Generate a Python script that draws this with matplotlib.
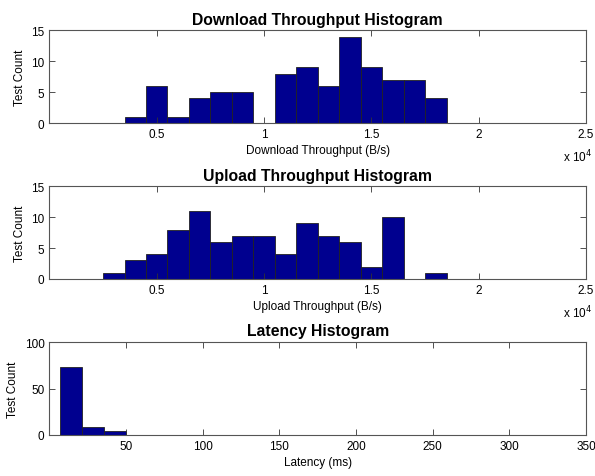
import numpy as np
import matplotlib
matplotlib.use("Agg")
import matplotlib.pyplot as plt
from matplotlib.ticker import FuncFormatter

plt.rcParams['font.family'] = ['Liberation Sans', 'DejaVu Sans']

# bin centres (B/s) and counts
dl_centers = [4000, 5000, 6000, 7000, 8000, 9000, 10000, 11000, 12000, 13000,
              14000, 15000, 16000, 17000, 18000]
dl_counts = [1, 6, 1, 4, 5, 5, 0, 8, 9, 6, 14, 9, 7, 7, 4]

ul_centers = [3000, 4000, 5000, 6000, 7000, 8000, 9000, 10000, 11000, 12000,
              13000, 14000, 15000, 16000, 17000, 18000]
ul_counts = [1, 3, 4, 8, 11, 6, 7, 7, 4, 9, 7, 6, 2, 10, 0, 1]

lat_centers = [14.2, 28.5, 42.8]
lat_counts = [73, 9, 4]
lat_width = 14.3

navy = (0, 0, 0.5625)

fig = plt.figure(figsize=(5.95, 4.77), dpi=100)
L, W = 0.083, 0.902
ax1 = fig.add_axes([L, 0.740, W, 0.194])
ax2 = fig.add_axes([L, 0.413, W, 0.194])
ax3 = fig.add_axes([L, 0.086, W, 0.194])


def style(ax, title, xlabel):
    ax.set_title(title, fontsize=11.3, fontweight='bold', pad=5)
    ax.set_xlabel(xlabel, fontsize=8.5, labelpad=3)
    ax.set_ylabel('Test Count', fontsize=8.5, labelpad=4)
    ax.tick_params(direction='in', top=True, right=True, labelsize=8.5,
                   length=4, width=0.6, colors='#333333', labelcolor='black')
    for s in ax.spines.values():
        s.set_linewidth(0.8)
        s.set_color('#555555')


ax1.bar(dl_centers, dl_counts, width=1000, color=navy, edgecolor='#222222', linewidth=0.6)
ax1.set_xlim(0, 25000)
ax1.set_ylim(0, 15)
ax1.set_xticks([5000, 10000, 15000, 20000, 25000])
ax1.set_yticks([0, 5, 10, 15])
style(ax1, 'Download Throughput Histogram', 'Download Throughput (B/s)')

ax2.bar(ul_centers, ul_counts, width=1000, color=navy, edgecolor='#222222', linewidth=0.6)
ax2.set_xlim(0, 25000)
ax2.set_ylim(0, 15)
ax2.set_xticks([5000, 10000, 15000, 20000, 25000])
ax2.set_yticks([0, 5, 10, 15])
style(ax2, 'Upload Throughput Histogram', 'Upload Throughput (B/s)')

for ax in (ax1, ax2):
    ax.xaxis.set_major_formatter(FuncFormatter(lambda v, p: '%g' % (v / 1e4)))
    ax.text(1.012, -0.27, 'x 10$^{4}$', transform=ax.transAxes, fontsize=8.5,
            ha='right', va='top')

ax3.bar(lat_centers, lat_counts, width=lat_width, color=navy, edgecolor='#222222', linewidth=0.6)
ax3.set_xlim(0, 350)
ax3.set_ylim(0, 100)
ax3.set_xticks([50, 100, 150, 200, 250, 300, 350])
ax3.set_yticks([0, 50, 100])
style(ax3, 'Latency Histogram', 'Latency (ms)')

fig.savefig('out.png', dpi=100)
